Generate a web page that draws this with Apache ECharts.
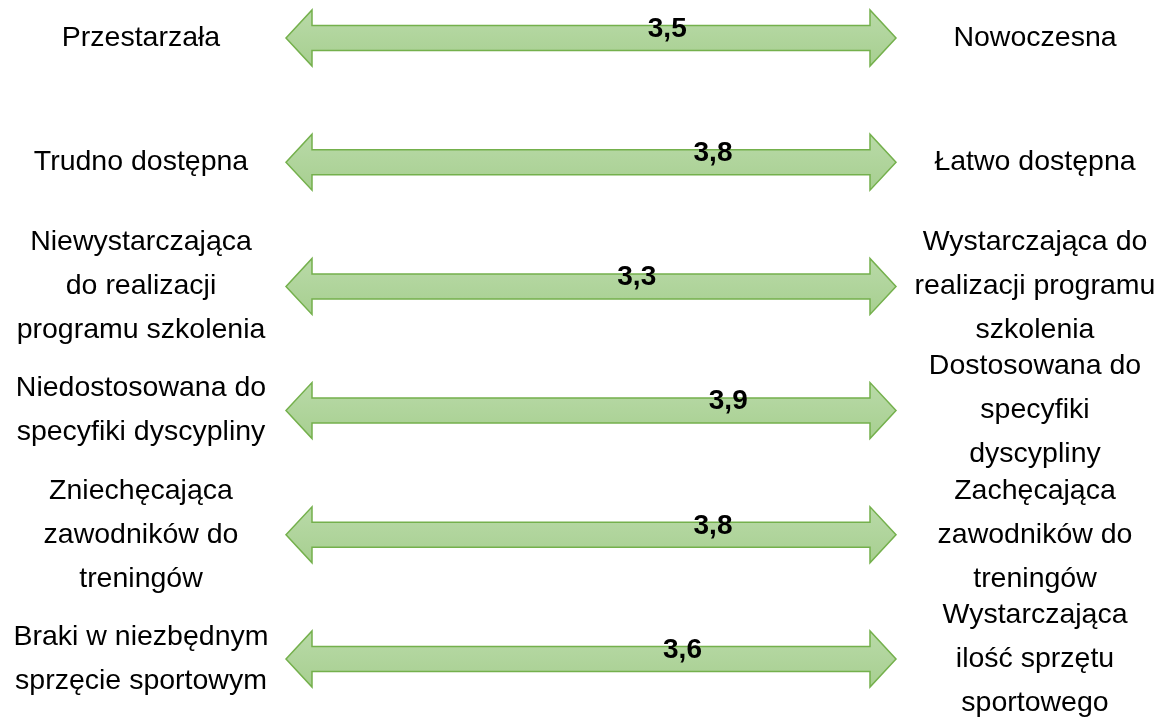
<!DOCTYPE html>
<html>
<head>
<meta charset="utf-8">
<script src="https://cdn.jsdelivr.net/npm/echarts@6/dist/echarts.min.js"></script>
<style>
html,body{margin:0;padding:0;background:#fff;}
#chart{width:1163px;height:725px;}
</style>
</head>
<body>
<div id="chart"></div>
<script>
// ---- data ----
const leftLabels = [
  'Przestarzała',
  'Trudno dostępna',
  'Niewystarczająca\ndo realizacji\nprogramu szkolenia',
  'Niedostosowana do\nspecyfiki dyscypliny',
  'Zniechęcająca\nzawodników do\ntreningów',
  'Braki w niezbędnym\nsprzęcie sportowym'
];
const rightLabels = [
  'Nowoczesna',
  'Łatwo dostępna',
  'Wystarczająca do\nrealizacji programu\nszkolenia',
  'Dostosowana do\nspecyfiki\ndyscypliny',
  'Zachęcająca\nzawodników do\ntreningów',
  'Wystarczająca\nilość sprzętu\nsportowego'
];
const values = [3.5, 3.8, 3.3, 3.9, 3.8, 3.6];
const scaleMin = 1;
const scaleMax = 5;

// ---- chart ----
const chart = echarts.init(document.getElementById('chart'), null, {renderer: 'canvas'});
const FONT = '"Liberation Sans", Arial, sans-serif';

const seriesData = values.map((v, i) => [scaleMin, i, scaleMax, v]);

function renderItem(params, api) {
  const i = api.value(1);
  const left = api.coord([api.value(0), i]);
  const right = api.coord([api.value(2), i]);
  const mark = api.coord([api.value(3), i]);
  const x1 = left[0], x2 = right[0], y = left[1];
  const hl = 26, hh = 28, sh = 12.5;
  const pts = [
    [x1, y], [x1 + hl, y - hh], [x1 + hl, y - sh], [x2 - hl, y - sh],
    [x2 - hl, y - hh], [x2, y], [x2 - hl, y + hh], [x2 - hl, y + sh],
    [x1 + hl, y + sh], [x1 + hl, y + hh]
  ];
  return {
    type: 'group',
    children: [
      {
        type: 'polygon',
        shape: {points: pts},
        style: {
          fill: new echarts.graphic.LinearGradient(0, 0, 0, 1, [
            {offset: 0, color: '#b9daa8'},
            {offset: 1, color: '#a7cf90'}
          ]),
          stroke: '#74b04c',
          lineWidth: 1.5
        }
      },
      {
        type: 'text',
        style: {
          text: api.value(3).toFixed(1).replace('.', ','),
          x: mark[0],
          y: y - 9,
          align: 'center',
          verticalAlign: 'middle',
          fontFamily: FONT,
          fontSize: 28,
          fontWeight: 'bold',
          fill: '#000'
        }
      }
    ]
  };
}

const labelStyle = {
  interval: 0,
  hideOverlap: false,
  color: '#000',
  fontFamily: FONT,
  fontSize: 28.5,
  lineHeight: 44,
  align: 'center'
};

chart.setOption({
  animation: false,
  grid: {left: 286, right: 267, top: 38, bottom: 60, containLabel: false},
  xAxis: {type: 'value', min: scaleMin, max: scaleMax, show: false},
  yAxis: [
    {
      type: 'category',
      data: leftLabels,
      inverse: true,
      boundaryGap: false,
      position: 'left',
      axisLine: {show: false},
      axisTick: {show: false},
      splitLine: {show: false},
      axisLabel: Object.assign({margin: 145}, labelStyle)
    },
    {
      type: 'category',
      data: rightLabels,
      inverse: true,
      boundaryGap: false,
      position: 'right',
      axisLine: {show: false},
      axisTick: {show: false},
      splitLine: {show: false},
      axisLabel: Object.assign({margin: 139}, labelStyle)
    }
  ],
  series: [{
    type: 'custom',
    renderItem: renderItem,
    encode: {x: [0, 2, 3], y: 1},
    data: seriesData,
    clip: false
  }]
});
</script>
</body>
</html>
